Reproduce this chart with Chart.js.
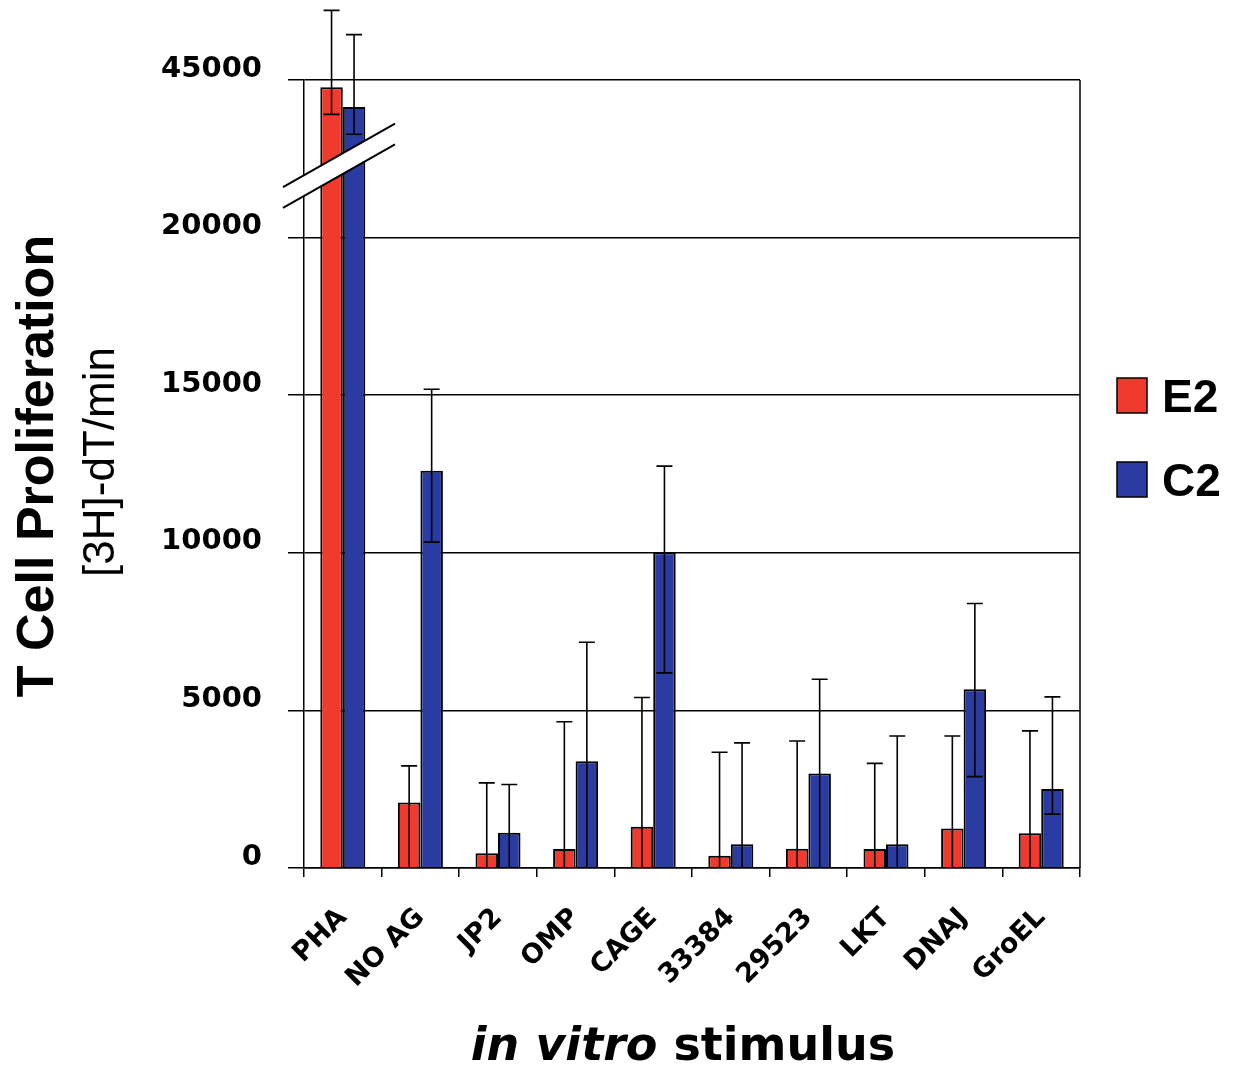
<!DOCTYPE html>
<html>
<head>
<meta charset="utf-8">
<script src="https://cdn.jsdelivr.net/npm/chart.js@4.4.0/dist/chart.umd.min.js"></script>
<style>
  html, body { margin: 0; padding: 0; background: #fff; }
  #wrap { width: 1241px; height: 1075px; }
</style>
</head>
<body>
<div id="wrap"><canvas id="chart" width="1241" height="1075"></canvas></div>
<script>
// stimuli on the x axis
const categories = ['PHA', 'NO AG', 'JP2', 'OMP', 'CAGE', '33384', '29523', 'LKT', 'DNAJ', 'GroEL'];

// mean counts and error bar ends
const e2Values = [44770, 2080, 470, 600, 1310, 390, 610, 600, 1250, 1100];
const e2High   = [47210, 3240, 2700, 4640, 5410, 3670, 4030, 3320, 4190, 4350];
const e2Low    = [43910, 0, 0, 0, 0, 0, 0, 0, 0, 0];
const c2Values = [44140, 12600, 1120, 3390, 10020, 750, 3000, 750, 5670, 2510];
const c2High   = [46440, 15190, 2650, 7160, 12750, 3970, 5990, 4190, 8390, 5430];
const c2Low    = [43280, 10340, 0, 0, 6190, 0, 0, 0, 2900, 1710];

// y ticks, with a break between 20000 and 45000
const yTickLabels = [0, 5000, 10000, 15000, 20000, 45000];
const breakAbove = 22500;   // values above this are drawn shifted down
const breakShift = 20000;

const toAxis = v => (v > breakAbove ? v - breakShift : v);
const fromAxis = v => (v > breakAbove ? v + breakShift : v);

const red = 'rgb(240, 58, 45)';
const blue = 'rgb(42, 60, 162)';

const errorBars = {
    id: 'errorBars',
    afterDatasetsDraw(chart) {
        const ctx = chart.ctx;
        const y = chart.scales.y;
        const ends = [[e2Low, e2High], [c2Low, c2High]];
        ctx.save();
        ctx.strokeStyle = '#000';
        ctx.lineWidth = 1.6;
        chart.data.datasets.forEach((ds, i) => {
            const meta = chart.getDatasetMeta(i);
            meta.data.forEach((bar, j) => {
                const [lows, highs] = ends[i];
                const x = bar.x;
                const top = y.getPixelForValue(toAxis(highs[j]));
                const bottom = y.getPixelForValue(toAxis(lows[j]));
                ctx.beginPath();
                ctx.moveTo(x, top);
                ctx.lineTo(x, bottom);
                ctx.moveTo(x - 8, top);
                ctx.lineTo(x + 8, top);
                if (lows[j] > 0) {
                    ctx.moveTo(x - 8, bottom);
                    ctx.lineTo(x + 8, bottom);
                }
                ctx.stroke();
            });
        });
        ctx.restore();
    }
};

const decorations = {
    id: 'decorations',
    afterDraw(chart) {
        const ctx = chart.ctx;
        const area = chart.chartArea;
        const y = chart.scales.y;
        ctx.save();

        // right frame line
        ctx.strokeStyle = '#000';
        ctx.lineWidth = 1.5;
        ctx.beginPath();
        ctx.moveTo(area.right, area.top);
        ctx.lineTo(area.right, area.bottom);
        ctx.stroke();

        // axis break band
        const cy = y.getPixelForValue(21650);
        const m = -0.566, gap = 10.4;
        const x0 = area.left - 21, x1 = area.left + 91;
        const yAt = (x, off) => cy + off + m * (x - area.left);
        ctx.fillStyle = '#fff';
        ctx.beginPath();
        ctx.moveTo(x0, yAt(x0, -gap));
        ctx.lineTo(x1, yAt(x1, -gap));
        ctx.lineTo(x1, yAt(x1, gap));
        ctx.lineTo(x0, yAt(x0, gap));
        ctx.closePath();
        ctx.fill();
        ctx.lineWidth = 2;
        [-gap, gap].forEach(off => {
            ctx.beginPath();
            ctx.moveTo(x0, yAt(x0, off));
            ctx.lineTo(x1, yAt(x1, off));
            ctx.stroke();
        });

        // y axis title
        ctx.fillStyle = '#000';
        ctx.textAlign = 'center';
        ctx.textBaseline = 'alphabetic';
        ctx.save();
        ctx.translate(53, 466);
        ctx.rotate(-Math.PI / 2);
        ctx.font = 'bold 52px "Liberation Sans", Arial, sans-serif';
        ctx.fillText('T Cell Proliferation', 0, 0);
        ctx.restore();
        ctx.save();
        ctx.translate(114, 462);
        ctx.rotate(-Math.PI / 2);
        ctx.font = '44px "Liberation Sans", Arial, sans-serif';
        ctx.fillText('[3H]-dT/min', 0, 0);
        ctx.restore();

        // x axis title
        const italicFont = 'italic bold 46px "DejaVu Sans", Verdana, sans-serif';
        const boldFont = 'bold 46px "DejaVu Sans", Verdana, sans-serif';
        ctx.font = italicFont;
        const w1 = ctx.measureText('in vitro').width;
        ctx.font = boldFont;
        const w2 = ctx.measureText(' stimulus').width;
        const start = 683 - (w1 + w2) / 2;
        ctx.textAlign = 'left';
        ctx.font = italicFont;
        ctx.fillText('in vitro', start, 1060);
        ctx.font = boldFont;
        ctx.fillText(' stimulus', start + w1, 1060);

        // legend
        ctx.font = 'bold 46px "Liberation Sans", Arial, sans-serif';
        chart.data.datasets.forEach((ds, i) => {
            const base = 412 + i * 84;
            ctx.fillStyle = ds.backgroundColor;
            ctx.fillRect(area.right + 37, base - 34, 30, 35);
            ctx.lineWidth = 1.5;
            ctx.strokeRect(area.right + 37, base - 34, 30, 35);
            ctx.fillStyle = '#000';
            ctx.fillText(ds.label, area.right + 82, base);
        });

        ctx.restore();
    }
};

new Chart(document.getElementById('chart'), {
    type: 'bar',
    data: {
        labels: categories,
        datasets: [
            {
                label: 'E2',
                data: e2Values.map(toAxis),
                backgroundColor: red,
                borderColor: '#000',
                borderWidth: 2,
                categoryPercentage: 0.58,
                barPercentage: 1.0,
            },
            {
                label: 'C2',
                data: c2Values.map(toAxis),
                backgroundColor: blue,
                borderColor: '#000',
                borderWidth: 2,
                categoryPercentage: 0.58,
                barPercentage: 1.0,
            },
        ],
    },
    options: {
        responsive: false,
        devicePixelRatio: 1,
        animation: false,
        layout: { padding: { top: 80, right: 161, left: 0, bottom: 0 } },
        plugins: {
            legend: { display: false },
            tooltip: { enabled: false },
        },
        scales: {
            x: {
                offset: true,
                grid: {
                    display: true,
                    offset: true,
                    drawOnChartArea: false,
                    color: '#000',
                    lineWidth: 1.5,
                    tickLength: 9,
                },
                border: { display: true, color: '#000', width: 1.5 },
                ticks: {
                    color: '#000',
                    maxRotation: 45,
                    minRotation: 45,
                    padding: 25,
                    font: { family: '"DejaVu Sans", Verdana, sans-serif', weight: 'bold', size: 27 },
                },
                afterFit: s => { s.height = 207; },
            },
            y: {
                min: 0,
                max: toAxis(yTickLabels[yTickLabels.length - 1]),
                afterBuildTicks: s => {
                    s.ticks = yTickLabels.map(v => ({ value: toAxis(v) }));
                },
                grid: {
                    color: '#000',
                    lineWidth: 1.5,
                    tickLength: 16,
                },
                border: { display: true, color: '#000', width: 1.5 },
                ticks: {
                    color: '#000',
                    padding: 26,
                    labelOffset: -11,
                    font: { family: '"DejaVu Sans", Verdana, sans-serif', weight: 'bold', size: 29 },
                    callback: v => String(fromAxis(v)),
                },
                afterFit: s => { s.width = 304; },
            },
        },
    },
    plugins: [errorBars, decorations],
});
</script>
</body>
</html>
